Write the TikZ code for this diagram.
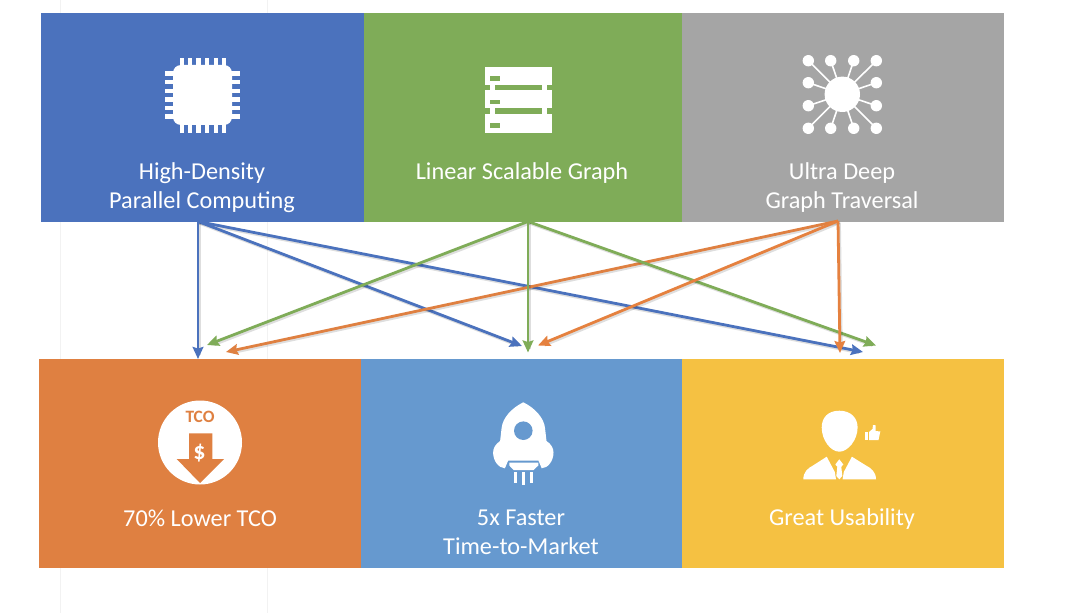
\documentclass[tikz,border=0pt]{standalone}
\usepackage{fontspec}
\setmainfont{Carlito}
\usetikzlibrary{arrows.meta}
\definecolor{cBlue}{HTML}{4B72BD}
\definecolor{cGreen}{HTML}{7FAC58}
\definecolor{cGray}{HTML}{A5A5A5}
\definecolor{cOrange}{HTML}{DF8041}
\definecolor{cSky}{HTML}{6699CF}
\definecolor{cYellow}{HTML}{F5C142}
\definecolor{aOrange}{HTML}{E5813F}
\tikzset{
  box/.style={inner sep=0pt,outer sep=0pt,draw=none,minimum height=156.75pt},
  lbl/.style={text=white,align=center,inner sep=0pt,font=\fontsize{18.2}{21.75}\selectfont},
  link/.style={line width=2.1pt,-{Stealth[length=9pt,width=8pt,inset=1.2pt]}},
  lshadow/.style={line width=2.1pt,black,opacity=.13,shorten >=4pt,transform canvas={shift={(1.1pt,-1.3pt)}}},
  wire/.style={white,line width=1.2pt},
  grid/.style={draw=black!5,line width=.5pt}
}
\newcommand{\conn}[3]{%
  \draw[lshadow] (#2) -- (#3);
  \draw[link,#1] (#2) -- (#3);
}
\begin{document}
\begin{tikzpicture}[x=.75pt,y=-.75pt]
\useasboundingbox (0,0) rectangle (1080,613);
\fill[white] (0,0) rectangle (1080,613);
\draw[grid] (60,0) -- (60,613);
\draw[grid] (267,0) -- (267,613);

% boxes
\node[box,fill=cBlue,minimum width=242.25pt] (hpc) at (202.5,117.5) {};
\node[box,fill=cGreen,minimum width=238.5pt] (lsg) at (523,117.5) {};
\node[box,fill=cGray,minimum width=241.5pt] (udt) at (843,117.5) {};
\node[box,fill=cOrange,minimum width=241.5pt] (tco) at (200,463.5) {};
\node[box,fill=cSky,minimum width=240.75pt] (ttm) at (521.5,463.5) {};
\node[box,fill=cYellow,minimum width=241.5pt] (use) at (843,463.5) {};

% labels
\node[lbl] (t1) at (202,187.5) {High-Density\\Parallel Computing};
\node[lbl] (t2) at (522,173.5) {Linear Scalable Graph};
\node[lbl] (t3) at (842,187.5) {Ultra Deep\\Graph Traversal};
\node[lbl] (t4) at (200,518) {70\% Lower TCO};
\node[lbl] (t5) at (521,532.5) {5x Faster\\Time-to-Market};
\node[lbl] (t6) at (842,519) {Great Usability};

% connector ends
\coordinate (oB) at (198,221.5);
\coordinate (oG) at (528,221.5);
\coordinate (oO) at (838,221);
\coordinate (b1) at (198,359);
\coordinate (b2) at (522,346);
\coordinate (b3) at (863,352);
\coordinate (g1) at (207,345);
\coordinate (g2) at (528,352.5);
\coordinate (g3) at (876,345.5);
\coordinate (o1) at (226,352);
\coordinate (o2) at (538,345.5);
\coordinate (o3) at (840,353);

\conn{cBlue}{oB}{b3}
\conn{cBlue}{oB}{b2}
\conn{cGreen}{oG}{g1}
\conn{cOrange}{oO}{o1}
\conn{cGreen}{oG}{g3}
\conn{cBlue}{oB}{b1}
\conn{cGreen}{oG}{g2}
\conn{aOrange}{oO}{o2}
\conn{aOrange}{oO}{o3}

% chip icon
\fill[white,rounded corners=6pt] (173,65) rectangle (232,125);
\foreach \p in {179.5,187.9,196.3,204.9,213.5,222.1}{
  \fill[white] (\p,58) rectangle (\p+4.2,133);
}
\foreach \p in {71.5,80.3,88.9,97.5,105.9,114.5}{
  \fill[white] (165,\p) rectangle (239.5,\p+4.2);
}

% server icon
\fill[white] (485,66.7) rectangle (551.7,85);
\fill[white] (485,90) rectangle (551.7,108);
\fill[white] (485,114) rectangle (551.7,132.7);
\foreach \q in {85,108}{
  \fill[white] (490,\q) rectangle (494.5,\q+6);
  \fill[white] (542.3,\q) rectangle (547,\q+6);
}
\fill[cGreen] (490,75.7) rectangle (500,80.7);
\fill[cGreen] (490,100) rectangle (500,104.3);
\fill[cGreen] (490,123.3) rectangle (500,128.3);

% hub icon
\coordinate (hub) at (842.3,94.3);
\foreach \hx/\hy in {808.3/60.7,830.7/60.7,853.7/60.7,876.3/60.7,808.3/82.7,876.3/82.7,808.3/105.7,876.3/105.7,808.3/128.3,830.7/128.3,853.7/128.3,876.3/128.3}{
  \draw[wire] (hub) -- (\hx,\hy);
  \fill[white] (\hx,\hy) circle [radius=5.7];
}
\fill[white] (hub) circle [radius=17.7];

% TCO icon
\fill[white] (200,442.5) circle [radius=42];
\fill[cOrange] (189,433.3) -- (212.3,433.3) -- (212.3,459) -- (224,459) -- (200,483) -- (176.7,459) -- (189,459) -- cycle;
\node[inner sep=0pt,text=cOrange,font=\fontsize{13}{15}\selectfont\bfseries] (tcot) at (200,416.5) {TCO};
\node[inner sep=0pt,text=white,font=\fontsize{18}{20}\selectfont\bfseries] (tcod) at (199.5,453) {\$};

% rocket icon
\fill[white] (523.3,402.3) .. controls (535,408) and (544,418) .. (545,428)
  .. controls (545.6,433) and (546,437) .. (546.5,441)
  .. controls (551,444) and (553.5,448) .. (553.5,452.5)
  .. controls (553.5,461) and (548,468) .. (541.7,468.3)
  -- (538.5,460.7) -- (508.1,460.7) -- (504.9,468.3)
  .. controls (498.6,468) and (493.1,461) .. (493.1,452.5)
  .. controls (493.1,448) and (495.6,444) .. (500.1,441)
  .. controls (500.6,437) and (501,433) .. (501.6,428)
  .. controls (502.6,418) and (511.6,408) .. (523.3,402.3) -- cycle;
\fill[cSky] (523.3,430.7) circle [radius=9.3];
\fill[white] (509.3,462.7) -- (538.3,462.7) -- (538.3,465.5) -- (533.5,470) -- (513.5,470) -- (509.3,465.5) -- cycle;
\fill[white] (514,472) rectangle (516.6,482.5);
\fill[white] (522,472) rectangle (524.6,485);
\fill[white] (530,472) rectangle (532.6,482.5);

% person icon
\fill[white] (839.3,410.7) .. controls (851,410.7) and (857.6,418) .. (857.6,427.5)
  .. controls (857.6,440) and (848,451.7) .. (839.3,451.7)
  .. controls (830.6,451.7) and (821.7,440) .. (821.7,427.5)
  .. controls (821.7,418) and (827.6,410.7) .. (839.3,410.7) -- cycle;
\fill[white] (803.3,479.3) .. controls (803.3,472) and (808,468) .. (813,465.5)
  -- (826.7,456.7) -- (834.8,472) -- (836,479.3) -- cycle;
\fill[white] (876,479.3) .. controls (876,472) and (871,468) .. (866,465.5)
  -- (851.9,456.7) -- (843.8,472) -- (842.6,479.3) -- cycle;
\fill[white] (839.3,459.3) -- (843.3,464.5) -- (841.3,466.8) -- (842.3,476) -- (839.3,479.3) -- (836.3,476) -- (837.3,466.8) -- (835.3,464.5) -- cycle;
% thumb
\fill[white] (864.7,431.7) rectangle (868,440);
\fill[white] (869,432) -- (872.5,429) -- (873,425) -- (875.5,425.3) -- (875.5,431) -- (880.3,431.5) -- (878.5,440) -- (869,440) -- cycle;
\end{tikzpicture}
\end{document}
